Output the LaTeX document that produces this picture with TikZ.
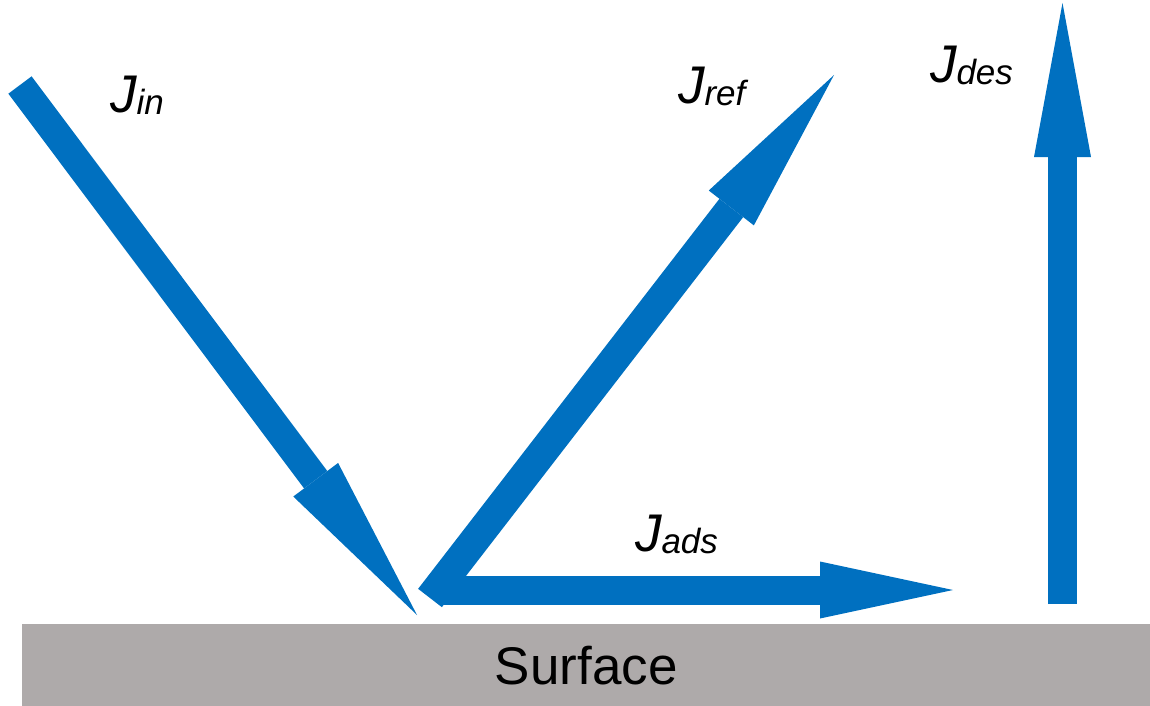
\documentclass[tikz,border=0pt]{standalone}
\usepackage{fontspec}
\setmainfont{Liberation Sans}
\usetikzlibrary{arrows.meta}
\definecolor{arrowblue}{HTML}{0070C0}
\definecolor{surfgray}{HTML}{AEAAAA}
\newcommand{\Jlabel}[1]{{\itshape\fontsize{53}{53}\selectfont J\raisebox{-2pt}{\fontsize{35}{35}\selectfont #1}}}
\tikzset{
  flux/.style={draw=arrowblue, line width=#1, line cap=butt},
  fluxtip/.style 2 args={-{Triangle[length=#1, width=#2, line width=0pt]}},
  lbl/.style={anchor=base west, inner sep=0pt, outer sep=0pt},
}
\begin{document}
\begin{tikzpicture}[x=1pt,y=-1pt]
\useasboundingbox (0,0) rectangle (1150,706);
% surface
\node[fill=surfgray, minimum width=1128pt, minimum height=82pt, inner sep=0pt, anchor=north west,
      font=\fontsize{53}{53}\selectfont] (surface) at (22,624) {Surface};
% arrow end points
\coordinate (inTail) at (20,85);
\coordinate (inTip) at (417,615);
\coordinate (refTail) at (430,598);
\coordinate (refTip) at (834,75);
\coordinate (adsTail) at (440,590);
\coordinate (adsTip) at (953,590);
\coordinate (desTail) at (1062.5,604);
\coordinate (desTip) at (1062.5,3);
% arrows
\draw[flux=29pt, fluxtip={169pt}{56pt}, arrowblue] (inTail) -- (inTip);
\draw[flux=29pt, fluxtip={133pt}{57pt}, arrowblue] (adsTail) -- (adsTip);
\draw[flux=30pt, fluxtip={168pt}{57pt}, arrowblue] (refTail) -- (refTip);
\draw[flux=29pt, fluxtip={154pt}{57pt}, arrowblue] (desTail) -- (desTip);
% labels
\node[lbl] (lin) at (110,113) {\Jlabel{in}};
\node[lbl] (lref) at (678,103) {\Jlabel{ref}};
\node[lbl] (ldes) at (930,83) {\Jlabel{des}};
\node[lbl] (lads) at (635,551) {\Jlabel{ads}};
\end{tikzpicture}
\end{document}
